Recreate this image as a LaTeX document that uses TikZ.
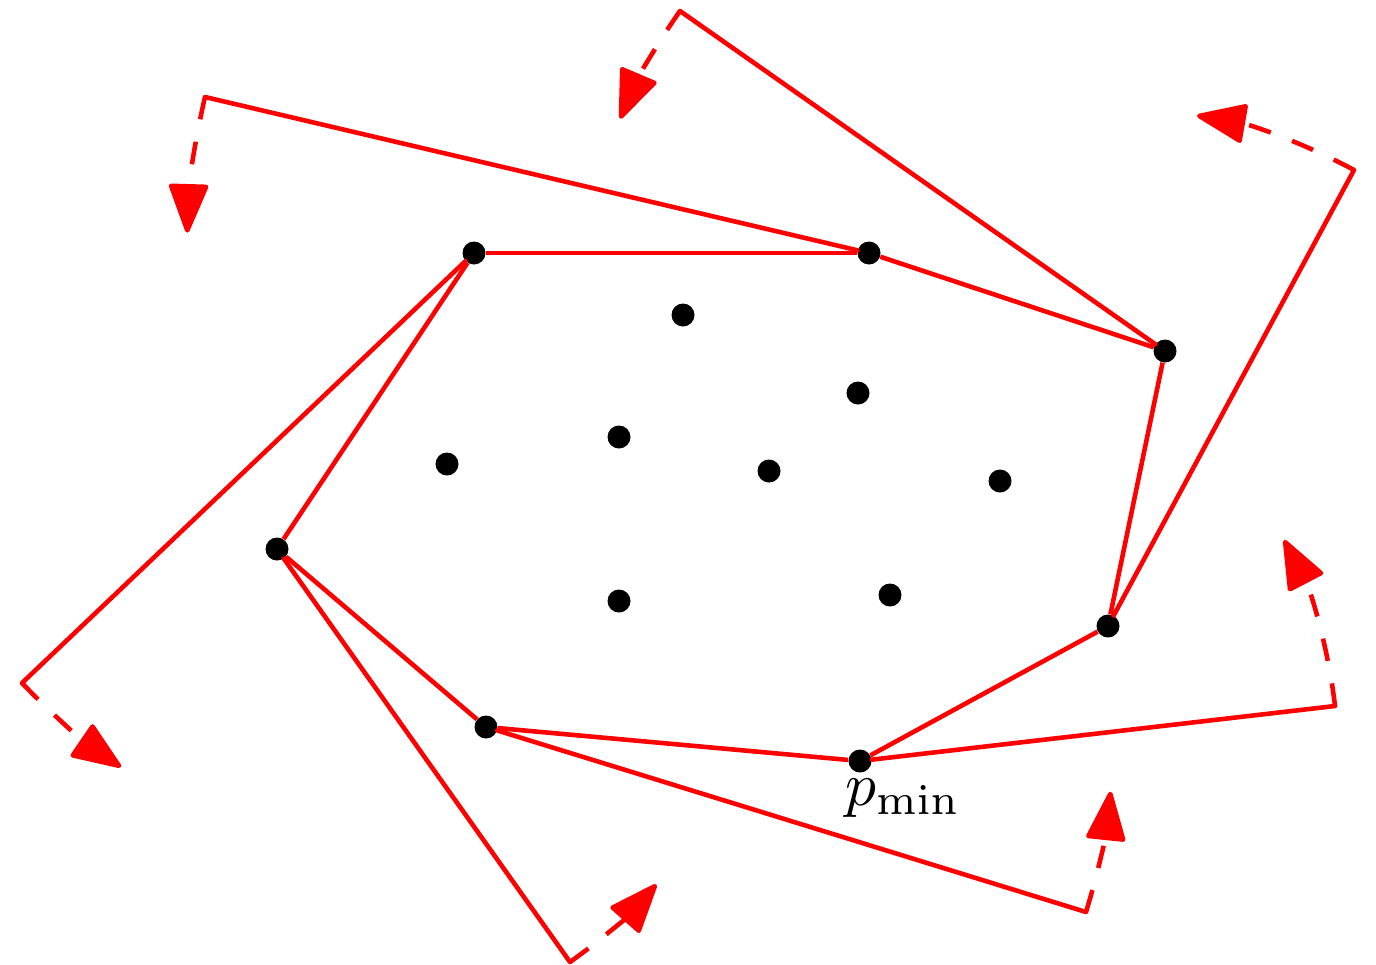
\documentclass[tikz,border=0pt]{standalone}
\usetikzlibrary{arrows.meta}
\begin{document}
\begin{tikzpicture}[x=0.02cm,y=-0.02cm,
  dot/.style={circle,fill=black,inner sep=0pt,minimum size=0.46cm},
  hull/.style={red,line width=2.6pt},
  sweep/.style={red,line width=2.6pt,line cap=round},
  rot/.style={red,line width=2.6pt,dash pattern=on 13pt off 13pt,
    -{Triangle[length=30pt,width=23pt,round]}}]
\useasboundingbox (0,0) rectangle (1376,964);
% hull vertices
\node[dot] (A) at (474,253) {};
\node[dot] (B) at (869,253) {};
\node[dot] (C) at (1165,351) {};
\node[dot] (D) at (1108,626) {};
\node[dot] (P) at (860,761) {};
\node[dot] (E) at (486,727) {};
\node[dot] (F) at (277,549) {};
% interior points
\node[dot] (i1) at (683,315) {};
\node[dot] (i2) at (858,393) {};
\node[dot] (i3) at (619,437) {};
\node[dot] (i4) at (447,464) {};
\node[dot] (i5) at (769,471) {};
\node[dot] (i6) at (1000,481) {};
\node[dot] (i7) at (619,601) {};
\node[dot] (i8) at (890,595) {};
\node[scale=3.5] (lbl) at (903,798) {$p_{\min}$};
% sweep corners
\coordinate (K1) at (1335,706);
\coordinate (K2) at (1354,170);
\coordinate (K3) at (680,11);
\coordinate (K4) at (205,97);
\coordinate (K5) at (22,683);
\coordinate (K6) at (570,962);
\coordinate (K7) at (1086,912);
% hull edges
\draw[hull] (A) -- (B);
\draw[hull] (B) -- (C);
\draw[hull] (C) -- (D);
\draw[hull] (D) -- (P);
\draw[hull] (P) -- (E);
\draw[hull] (E) -- (F);
\draw[hull] (F) -- (A);
% sweep lines
\draw[sweep] (P) -- (K1);
\draw[sweep] (D) -- (K2);
\draw[sweep] (C) -- (K3);
\draw[sweep] (B) -- (K4);
\draw[sweep] (A) -- (K5);
\draw[sweep] (F) -- (K6);
\draw[sweep] (E) -- (K7);
% rotation arcs
\draw[rot] (K1) arc[start angle=6.6,end angle=27.5,radius=9.572cm];
\draw[rot] (K2) arc[start angle=61.65,end angle=80.1,radius=10.368cm];
\draw[rot] (K3) arc[start angle=144.97,end angle=156.9,radius=11.86cm];
\draw[rot] (K4) arc[start angle=166.78,end angle=178.3,radius=13.634cm];
\draw[rot] (K5) arc[start angle=223.64,end angle=235.6,radius=12.46cm];
\draw[rot] (K6) arc[start angle=305.36,end angle=318.5,radius=10.15cm];
\draw[rot] (K7) arc[start angle=-17.14,end angle=-5.93,radius=12.572cm];
\end{tikzpicture}
\end{document}
